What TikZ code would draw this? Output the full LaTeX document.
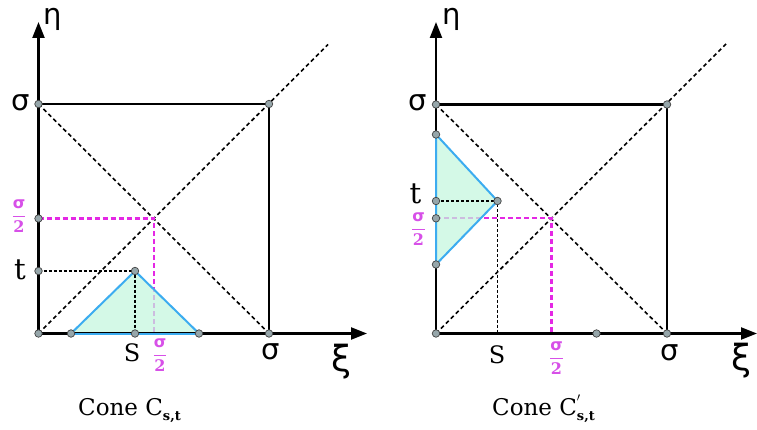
\documentclass[tikz,border=0pt]{standalone}
\usepackage{amsmath}
\usepackage{fontspec}
\usetikzlibrary{arrows.meta}
\newfontfamily\grk{DejaVu Sans}
\newfontfamily\ser{DejaVu Serif}
\definecolor{magc}{RGB}{228,40,228}
\definecolor{magt}{RGB}{215,80,232}
\definecolor{mint}{RGB}{196,246,222}
\definecolor{edgeblue}{RGB}{60,172,240}
\definecolor{dotgray}{RGB}{150,166,170}
\newcommand{\halfsig}{\ensuremath{\dfrac{\mbox{\bfseries\grk σ}}{\mbox{\bfseries\ser 2}}}}
\tikzset{
  axisline/.style={line width=2.2pt,-{Triangle[length=16pt,width=12pt]}},
  boxline/.style={line width=2.2pt},
  diag/.style={line width=1.6pt,dash pattern=on 4pt off 3pt},
  guide/.style={line width=1.1pt,dash pattern=on 3pt off 2pt},
  magline/.style={magc,line width=2.2pt,dash pattern=on 5pt off 3pt},
  cone/.style={fill=mint,fill opacity=0.72,draw=edgeblue,draw opacity=1,line width=2pt,line join=miter},
  pt/.style={circle,fill=dotgray,draw=black!75,line width=0.7pt,inner sep=0pt,minimum size=7.5pt},
  lbl/.style={inner sep=0pt,font=\fontsize{29}{32}\selectfont\grk},
  lat/.style={inner sep=0pt,font=\fontsize{24}{27}\selectfont\ser},
  frac/.style={inner sep=0pt,text=magt,font=\fontsize{16}{18}\selectfont},
  captext/.style={inner sep=0pt,anchor=base west,font=\fontsize{23}{26}\selectfont\ser}
}
\begin{document}
\begin{tikzpicture}[x=1pt,y=-1pt]
\useasboundingbox (0,0) rectangle (757,430);

% ===== Left panel =====
\coordinate (LO) at (38.5,333.5);
\coordinate (LYT) at (38.5,22);
\coordinate (LXT) at (367,333.5);
\coordinate (LTL) at (38.5,104);
\coordinate (LTR) at (269,104);
\coordinate (LBR) at (269,333.5);
\coordinate (LDE) at (328,44.5);
\coordinate (LHM) at (38.5,218.5);
\coordinate (LMC) at (154,218.5);
\coordinate (LMB) at (154,333.5);
\coordinate (LT) at (38.5,271);
\coordinate (LA) at (135,271);
\coordinate (LS) at (135,333.5);
\coordinate (LB1) at (71,333.5);
\coordinate (LB2) at (199,333.5);

\draw[diag] (LO) -- (LDE);
\draw[diag] (LTL) -- (LBR);
\draw[boxline] (LTL) -- (LTR) -- (LBR);
\draw[magline] (LHM) -- (LMC) -- (LMB);
\draw[cone] (LB1) -- (LA) -- (LB2) -- cycle;
\draw[guide] (LT) -- (LA) -- (LS);
\draw[axisline] (LO) -- (LYT);
\draw[axisline] (LO) -- (LXT);
\draw[edgeblue,line width=2pt] (LB1) -- (LB2);

\foreach \p in {LTL,LTR,LHM,LT,LA,LO,LB1,LS,LB2,LBR}
  \node[pt] (d\p) at (\p) {};

\node[lbl] (Leta) at (52.5,19.5) {η};
\node[lbl] (Lsig1) at (21,102.5) {σ};
\node[frac] (Lh1) at (19,216) {\halfsig};
\node[lat,font=\fontsize{29}{32}\selectfont\ser] (Lt) at (20,270) {t};
\node[lat] (Ls) at (132,353) {S};
\node[frac] (Lh2) at (160,355) {\halfsig};
\node[lbl] (Lsig2) at (271,352) {σ};
\node[lbl,font=\fontsize{36}{38}\selectfont\grk] (Lxi) at (342,362) {ξ};
\node[captext] (Lcap) at (78,415) {Cone C\raisebox{-0.25em}{\fontsize{13}{15}\selectfont\bfseries s,t}};

% ===== Right panel =====
\coordinate (RO) at (436,333.5);
\coordinate (RYT) at (436,22);
\coordinate (RXT) at (757,333.5);
\coordinate (RTL) at (436,104.5);
\coordinate (RTR) at (667,104.5);
\coordinate (RBR) at (667,333.5);
\coordinate (RDE) at (726,44);
\coordinate (RHM) at (436,218.3);
\coordinate (RMC) at (551.5,218.3);
\coordinate (RMB) at (551.5,333.5);
\coordinate (RT) at (436,201);
\coordinate (RA) at (497.5,201);
\coordinate (RS) at (497.5,333.5);
\coordinate (RC1) at (436,134.5);
\coordinate (RC2) at (436,264.5);
\coordinate (RX) at (596.5,333.5);

\draw[diag] (RO) -- (RDE);
\draw[diag] (RTL) -- (RBR);
\draw[boxline] (RTL) -- (RTR) -- (RBR);
\draw[magline] (RHM) -- (RMC) -- (RMB);
\draw[cone] (RC1) -- (RA) -- (RC2) -- cycle;
\draw[guide] (RT) -- (RA) -- (RS);
\draw[axisline] (RO) -- (RYT);
\draw[axisline] (RO) -- (RXT);
\draw[edgeblue,line width=2pt] (RC1) -- (RC2);

\foreach \p in {RTL,RTR,RC1,RT,RA,RHM,RC2,RO,RX,RBR}
  \node[pt] (d\p) at (\p) {};

\node[lbl] (Reta) at (451.5,19.5) {η};
\node[lbl] (Rsig1) at (417.5,102.5) {σ};
\node[lat,font=\fontsize{29}{32}\selectfont\ser] (Rt) at (415.5,194) {t};
\node[frac] (Rh1) at (418.5,229) {\halfsig};
\node[lat] (Rs) at (497,355) {S};
\node[frac] (Rh2) at (556.5,358) {\halfsig};
\node[lbl] (Rsig2) at (670,352.5) {σ};
\node[lbl,font=\fontsize{36}{38}\selectfont\grk] (Rxi) at (741.5,361) {ξ};
\node[captext] (Rcap) at (492,415) {Cone C\rlap{\raisebox{0.3em}{\fontsize{18}{20}\selectfont$'$}}\raisebox{-0.25em}{\fontsize{13}{15}\selectfont\bfseries s,t}};
\end{tikzpicture}
\end{document}
